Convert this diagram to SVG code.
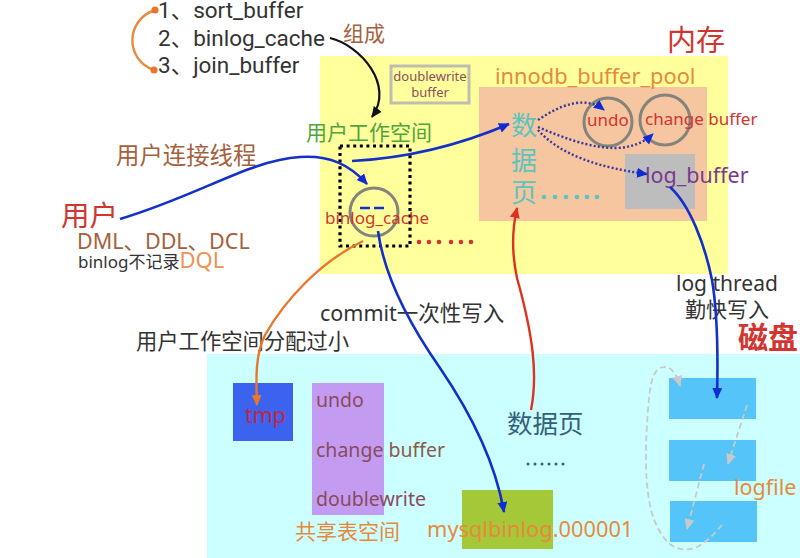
<svg xmlns="http://www.w3.org/2000/svg" width="800" height="558" viewBox="0 0 800 558">
<style>
text{font-family:"Noto Sans","Noto Sans CJK SC",sans-serif}
.cj{font-family:"Noto Sans CJK SC","Noto Sans",sans-serif}
.ro{font-family:"Roboto","Noto Sans CJK SC",sans-serif}
.br{fill:#a5603c}
.rd{fill:#d2352f}
.or{fill:#e58a3c}
.bk{fill:#333}
.bl{fill:none;stroke:#1430c8;stroke-width:2.6}
.dot{fill:none;stroke:#35359e;stroke-width:2.4;stroke-dasharray:2 2.2}
.gd{fill:none;stroke:#c9c9c9;stroke-width:1.8;stroke-dasharray:6 3.5}
.ring{fill:none;stroke:#84847c;stroke-width:3}
</style>
<defs>
<marker id="ab" markerWidth="14" markerHeight="14" refX="10" refY="5" orient="auto" markerUnits="userSpaceOnUse"><path d="M0 0L11 5L0 10Z" fill="#0f2bd6"/></marker>
<marker id="ak" markerWidth="14" markerHeight="14" refX="10" refY="5" orient="auto" markerUnits="userSpaceOnUse"><path d="M0 0L11 5L0 10Z" fill="#111"/></marker>
<marker id="ao" markerWidth="14" markerHeight="14" refX="10" refY="5" orient="auto" markerUnits="userSpaceOnUse"><path d="M0 0L11 5L0 10Z" fill="#e8762c"/></marker>
<marker id="ar" markerWidth="14" markerHeight="14" refX="10" refY="5" orient="auto" markerUnits="userSpaceOnUse"><path d="M0 0L11 5L0 10Z" fill="#e0301e"/></marker>
<marker id="ag" markerWidth="14" markerHeight="14" refX="10" refY="5" orient="auto" markerUnits="userSpaceOnUse"><path d="M0 0L11 5L0 10Z" fill="#c9c9c9"/></marker>
</defs>
<rect width="800" height="558" fill="#fff"/>
<g id="memory">
<rect x="320" y="56" width="408" height="218" fill="#ffff9c"/>
<text x="667" y="51" font-size="29" class="rd cj">内存</text>
</g>
<g id="disk">
<rect x="207" y="354" width="593" height="204" fill="#ccffff"/>
<text x="738" y="348" font-size="30" font-weight="700" class="rd cj">磁盘</text>
</g>
<g id="buffer-list">
<text x="158" y="18" font-size="22.5" class="bk ro">1、sort_buffer</text>
<text x="158" y="46" font-size="22.5" class="bk ro">2、binlog_cache</text>
<text x="158" y="73" font-size="22.5" class="bk ro">3、join_buffer</text>
<text x="343" y="41" font-size="21" class="br cj">组成</text>
</g>
<g id="doublewrite-buffer">
<rect x="391" y="66" width="78" height="37" fill="none" stroke="#bdbdb0" stroke-width="3"/>
<text x="430" y="81" font-size="13" text-anchor="middle" fill="#8a4f60">doublewrite</text>
<text x="430" y="97" font-size="13" text-anchor="middle" fill="#8a4f60">buffer</text>
</g>
<g id="user-workspace">
<text x="306" y="140" font-size="21" fill="#4fa53c" class="cj">用户工作空间</text>
<rect x="340" y="146" width="70" height="100" fill="none" stroke="#000" stroke-width="3.2" stroke-dasharray="3 3.6"/>
</g>
<g id="binlog-cache">
<circle cx="374" cy="212" r="24" class="ring"/>
<text x="325" y="224" font-size="17" class="rd">binlog_cache</text>
<path d="M360 208H387" stroke="#1430c8" stroke-width="2.6" stroke-dasharray="10 4"/>
<g fill="#d2352f"><circle cx="419" cy="242" r="2.3"/><circle cx="429" cy="242" r="2.3"/><circle cx="439" cy="242" r="2.3"/><circle cx="451" cy="242" r="2.3"/><circle cx="461" cy="242" r="2.3"/><circle cx="471" cy="242" r="2.3"/></g>
</g>
<g id="buffer-pool">
<rect x="479" y="87" width="228" height="134" fill="#f5c6a0"/>
<text x="495" y="84" font-size="21.8" class="or">innodb_buffer_pool</text>
<text x="511" y="135" font-size="26" fill="#5cc4be" class="cj">数</text>
<text x="511" y="170" font-size="26" fill="#5cc4be" class="cj">据</text>
<text x="511" y="202" font-size="26" fill="#5cc4be" class="cj">页</text>
<g fill="#5cc4be"><circle cx="544" cy="197" r="2.3"/><circle cx="555" cy="197" r="2.3"/><circle cx="566" cy="197" r="2.3"/><circle cx="577" cy="197" r="2.3"/><circle cx="587" cy="197" r="2.3"/><circle cx="597" cy="197" r="2.3"/></g>
</g>
<g id="undo">
<circle cx="608" cy="122" r="24" class="ring"/>
<text x="587" y="126" font-size="17" class="rd">undo</text>
</g>
<g id="change-buffer">
<circle cx="665" cy="120" r="25" class="ring"/>
<text x="645" y="125" font-size="17" class="rd">change buffer</text>
</g>
<g id="log-buffer">
<rect x="625" y="154" width="70" height="55" fill="#bdbdbd"/>
<text x="645" y="183" font-size="21.5" fill="#7a3a8c">log_buffer</text>
</g>
<g id="user">
<text x="61" y="226" font-size="28.5" class="rd cj">用户</text>
<text x="77" y="249" font-size="21.5" class="br">DML、DDL、DCL</text>
<text x="78" y="268" font-size="17" class="bk">binlog不记录<tspan font-size="22" fill="#ef9150">DQL</tspan></text>
<text x="116" y="164" font-size="23.4" class="br cj">用户连接线程</text>
</g>
<g id="labels">
<text x="320" y="321" font-size="21.5" class="bk">commit一次性写入</text>
<text x="136" y="349" font-size="21.3" class="bk cj">用户工作空间分配过小</text>
<text x="676" y="291" font-size="21" class="bk">log thread</text>
<text x="685" y="317" font-size="21" class="bk cj">勤快写入</text>
<text x="507" y="433" font-size="25.5" fill="#33607a" class="cj">数据页</text>
<g fill="#33607a"><circle cx="528" cy="464" r="1.5"/><circle cx="535" cy="464" r="1.5"/><circle cx="542" cy="464" r="1.5"/><circle cx="549" cy="464" r="1.5"/><circle cx="556" cy="464" r="1.5"/><circle cx="563" cy="464" r="1.5"/></g>
</g>
<g id="tmp">
<rect x="233" y="383" width="60" height="58" fill="#3b63f0"/>
<text x="245" y="423" font-size="21.5" fill="#c0273f">tmp</text>
</g>
<g id="shared-tablespace">
<rect x="312" y="383" width="72" height="132" fill="#c39cf2"/>
<text x="316" y="407" font-size="19.5" fill="#8a4a5c">undo</text>
<text x="316" y="457" font-size="19.5" fill="#8a4a5c">change<tspan fill="#8a5a48"> buffer</tspan></text>
<text x="316" y="506" font-size="19.5" fill="#8a4a5c">doublewrite</text>
<text x="295" y="539" font-size="21" class="or cj">共享表空间</text>
</g>
<g id="binlog-file">
<rect x="462" y="490" width="91" height="59" fill="#a5c838"/>
<text x="427" y="537" font-size="21.8" class="or">mysqlbinlog.000001</text>
</g>
<g id="logfile">
<rect x="669" y="378" width="87" height="41" fill="#55c4f8"/>
<rect x="669" y="440" width="87" height="41" fill="#55c4f8"/>
<rect x="670" y="501" width="87" height="41" fill="#55c4f8"/>
<text x="734" y="495" font-size="21.5" class="or">logfile</text>
</g>
<g id="connectors">
<path d="M155 10C125 20 125 60 154 70" fill="none" stroke="#e88a40" stroke-width="2.4"/>
<circle cx="155" cy="10" r="3.6" fill="#e8762c"/><circle cx="154" cy="70" r="3.6" fill="#e8762c"/>
<path d="M330 38C360 45 395 85 372 117" fill="none" stroke="#111" stroke-width="2.2" marker-end="url(#ak)"/>
<path d="M120 219C200 195 250 160 300 157C330 155 350 165 367 184" class="bl" marker-end="url(#ab)"/>
<path d="M352 161C410 158 460 145 509 124" class="bl" marker-end="url(#ab)"/>
<path d="M538 120C560 105 585 95 604 110" class="dot" marker-end="url(#ab)"/>
<path d="M538 127C580 145 625 160 653 134" class="dot" marker-end="url(#ab)"/>
<path d="M538 130C560 155 600 168 647 174" class="dot" marker-end="url(#ab)"/>
<path d="M378 231C384 275 410 325 440 368C470 412 495 460 504 512" class="bl" marker-end="url(#ab)"/>
<path d="M363 241C320 262 285 300 265 335C255 355 256 380 257 405" fill="none" stroke="#e8762c" stroke-width="2.4" marker-end="url(#ao)"/>
<path d="M531 410C538 375 533 335 517 278C512 255 512 230 517 208" fill="none" stroke="#e0301e" stroke-width="2.4" marker-end="url(#ar)"/>
<path d="M670 187C690 205 705 245 712 280C718 315 718 360 717 398" class="bl" marker-end="url(#ab)"/>
<path d="M722 525C715 533 705 544 695 548C680 552 668 548 658 528C645 505 644 460 648 410C650 385 652 368 664 367C670 366 676 372 680 386" class="gd" marker-end="url(#ag)"/>
<path d="M747 405L728 464" class="gd" marker-end="url(#ag)"/>
<path d="M704 464L687 529" class="gd" marker-end="url(#ag)"/>
</g>
</svg>
